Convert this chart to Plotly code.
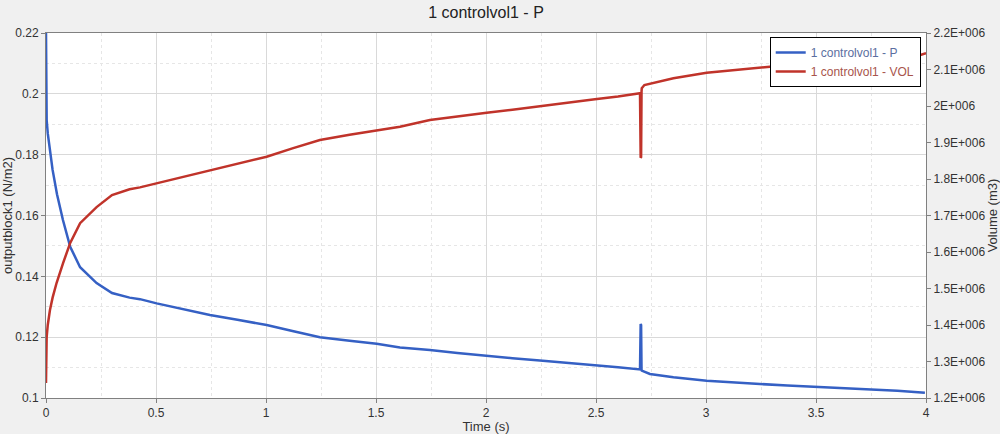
import plotly.graph_objects as go

# ---- data ----
time_p = [0.0, 0.001, 0.002, 0.003, 0.008, 0.015, 0.03, 0.05, 0.077, 0.11, 0.155, 0.23,
          0.30, 0.38, 0.427, 0.503, 0.62, 0.745, 0.87, 1.003, 1.12, 1.245, 1.38, 1.503,
          1.609, 1.745, 1.87, 2.003, 2.12, 2.245, 2.37, 2.495, 2.60, 2.700, 2.703, 2.705,
          2.707, 2.708, 2.745, 2.852, 3.003, 3.12, 3.245, 3.37, 3.495, 3.62, 3.745, 3.87, 3.995]
pressure = [0.220, 0.212, 0.197, 0.1914, 0.187, 0.183, 0.175, 0.167, 0.1585, 0.1497, 0.143, 0.1378,
            0.1345, 0.1330, 0.1325, 0.1311, 0.1292, 0.1273, 0.1257, 0.1240, 0.1220, 0.1200, 0.1188, 0.1178,
            0.1166, 0.1158, 0.1148, 0.1138, 0.1131, 0.1123, 0.1116, 0.1108, 0.1101, 0.1094, 0.1243, 0.1240,
            0.1092, 0.1090, 0.1079, 0.1068, 0.1057, 0.1051, 0.1046, 0.1041, 0.1037, 0.1033, 0.1029, 0.1024, 0.1017]

time_v = [0.0, 0.001, 0.003, 0.008, 0.018, 0.03, 0.048, 0.078, 0.11, 0.155, 0.23, 0.30,
          0.38, 0.427, 0.503, 0.62, 0.745, 0.87, 1.003, 1.12, 1.245, 1.38, 1.503, 1.609,
          1.745, 1.87, 2.003, 2.12, 2.245, 2.37, 2.495, 2.60, 2.700, 2.703, 2.705, 2.707,
          2.708, 2.72, 2.852, 3.003, 3.155, 3.29, 3.5, 3.75, 3.95, 4.0]
volume = [1.241e6, 1.30e6, 1.367e6, 1.40e6, 1.441e6, 1.475e6, 1.515e6, 1.570e6, 1.625e6, 1.679e6, 1.723e6, 1.756e6,
          1.772e6, 1.777e6, 1.788e6, 1.806e6, 1.8247e6, 1.842e6, 1.8611e6, 1.884e6, 1.9068e6, 1.921e6, 1.9323e6, 1.9433e6,
          1.9616e6, 1.972e6, 1.9816e6, 1.990e6, 2.000e6, 2.009e6, 2.0184e6, 2.026e6, 2.0348e6, 1.858e6, 1.860e6, 2.040e6,
          2.0485e6, 2.0575e6, 2.0759e6, 2.0912e6, 2.1005e6, 2.1077e6, 2.115e6, 2.125e6, 2.135e6, 2.145e6]

x_ticks = [0, 0.5, 1, 1.5, 2, 2.5, 3, 3.5, 4]
x_tick_labels = ["0", "0.5", "1", "1.5", "2", "2.5", "3", "3.5", "4"]
y_ticks = [0.1, 0.12, 0.14, 0.16, 0.18, 0.2, 0.22]
y_tick_labels = ["0.1", "0.12", "0.14", "0.16", "0.18", "0.2", "0.22"]
y2_ticks = [1.2e6, 1.3e6, 1.4e6, 1.5e6, 1.6e6, 1.7e6, 1.8e6, 1.9e6, 2.0e6, 2.1e6, 2.2e6]
y2_tick_labels = ["1.2E+006", "1.3E+006", "1.4E+006", "1.5E+006", "1.6E+006", "1.7E+006",
                  "1.8E+006", "1.9E+006", "2E+006", "2.1E+006", "2.2E+006"]

BLUE = "#3560c4"
RED = "#c0332a"
FONT = "Liberation Sans"

fig = go.Figure()
fig.add_trace(go.Scatter(
    x=time_p, y=pressure, mode="lines",
    name="<span style='color:#5b6ea0'>1 controlvol1 - P</span>",
    line=dict(color=BLUE, width=2.5), yaxis="y"))
fig.add_trace(go.Scatter(
    x=time_v, y=volume, mode="lines",
    name="<span style='color:#a8544c'>1 controlvol1 - VOL</span>",
    line=dict(color=RED, width=2.5), yaxis="y2"))

fig.update_layout(
    template="none",
    width=1000, height=434,
    paper_bgcolor="#f0f0f0", plot_bgcolor="#ffffff",
    margin=dict(l=46, r=74, t=33, b=36),
    font=dict(family=FONT, size=12, color="#333333"),
    title=dict(text="1 controlvol1 - P", x=0.486, xanchor="center",
               y=1 - 12 / 434, yanchor="middle",
               font=dict(family=FONT, size=16, color="#222222")),
    showlegend=True,
    legend=dict(x=0.994, xanchor="right", y=0.989, yanchor="top",
                bgcolor="#ffffff", bordercolor="#000000", borderwidth=1,
                font=dict(family=FONT, size=12), tracegroupgap=0,
                itemwidth=30),
    xaxis=dict(
        range=[0, 4], tickvals=x_ticks, ticktext=x_tick_labels,
        showline=True, linecolor="#808080", linewidth=1, mirror=True,
        ticks="outside", ticklen=4, tickcolor="#808080",
        showgrid=True, gridcolor="#d9d9d9", gridwidth=1,
        minor=dict(dtick=0.25, showgrid=True, gridcolor="#e6e6e6", griddash="dot", ticks=""),
        zeroline=False, automargin=False,
        title=dict(text="Time (s)", standoff=0, font=dict(size=13)),
    ),
    yaxis=dict(
        range=[0.1, 0.22], tickvals=y_ticks, ticktext=y_tick_labels,
        showline=True, linecolor="#808080", linewidth=1,
        ticks="outside", ticklen=4, tickcolor="#808080",
        showgrid=True, gridcolor="#d9d9d9", gridwidth=1,
        minor=dict(dtick=0.01, showgrid=True, gridcolor="#e6e6e6", griddash="dot", ticks=""),
        zeroline=False, automargin=False,
        title=dict(text="outputblock1 (N/m2)", standoff=0, font=dict(size=13)),
    ),
    yaxis2=dict(
        range=[1.2e6, 2.2e6], tickvals=y2_ticks, ticktext=y2_tick_labels,
        overlaying="y", side="right",
        showline=True, linecolor="#808080", linewidth=1,
        ticks="outside", ticklen=4, tickcolor="#808080",
        showgrid=False, zeroline=False, automargin=False,
        title=dict(text="Volume (m3)", standoff=2, font=dict(size=13)),
    ),
)

fig.write_html("out.html",
               config={"displayModeBar": False},
               post_script="document.body.style.margin='0';document.body.style.overflow='hidden';")
